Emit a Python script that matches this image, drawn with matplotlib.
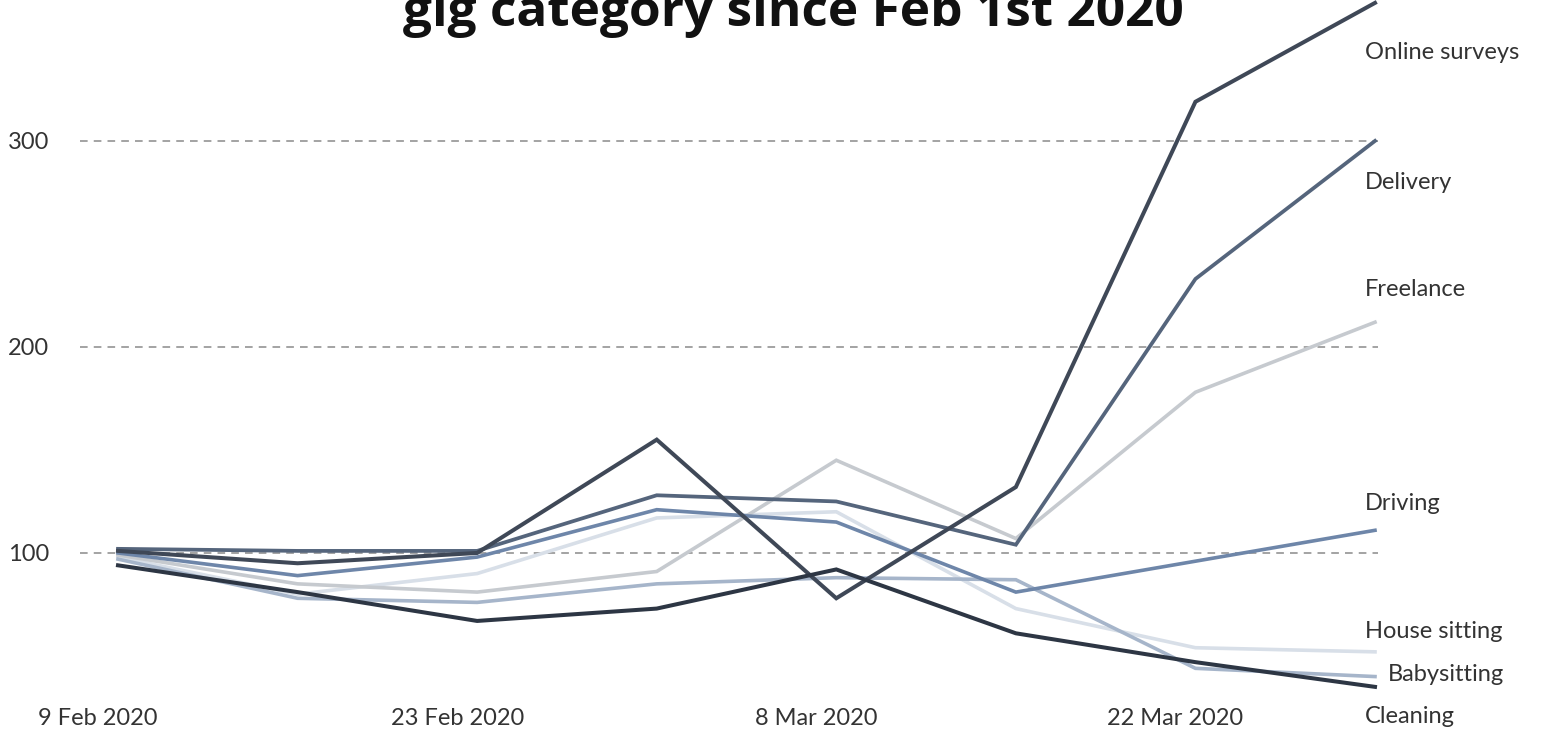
import matplotlib.pyplot as plt
import matplotlib.transforms as mtransforms
import pandas as pd

# weekly points, 9 Feb -> 29 Mar 2020
dates = pd.date_range("2020-02-09", "2020-03-29", freq="7D")

online_surveys = [101, 95, 100, 155, 78, 132, 319, 367]
delivery = [102, 101, 101, 128, 125, 104, 233, 300]
freelance = [99, 85, 81, 91, 145, 107, 178, 212]
driving = [100, 89, 98, 121, 115, 81, 96, 111]
house_sitting = [98, 80, 90, 117, 120, 73, 54, 52]
babysitting = [97, 78, 76, 85, 88, 87, 44, 40]
cleaning = [94, 81, 67, 73, 92, 61, 47, 35]

names = ["Online surveys", "Delivery", "Freelance", "Driving",
         "House sitting", "Babysitting", "Cleaning"]
series = [online_surveys, delivery, freelance, driving,
          house_sitting, babysitting, cleaning]

tick_dates = pd.to_datetime(["2020-02-09", "2020-02-23", "2020-03-08", "2020-03-22"])
tick_labels = ["9 Feb 2020", "23 Feb 2020", "8 Mar 2020", "22 Mar 2020"]
grid_vals = [100, 200, 300]

# styling
colors = {
    "Online surveys": "#3f4857",
    "Delivery": "#55657c",
    "Freelance": "#c6cacf",
    "Driving": "#6e86a9",
    "House sitting": "#d8dfe8",
    "Babysitting": "#a6b5ca",
    "Cleaning": "#2d3644",
}
widths = {"Online surveys": 2.9, "Cleaning": 2.9, "Delivery": 2.7}
# where the right-hand labels sit (value units) and their x shift in px
label_pos = {
    "Online surveys": (343, -10),
    "Delivery": (280, -10),
    "Freelance": (228, -10),
    "Driving": (124, -10),
    "House sitting": (62, -10),
    "Babysitting": (41, 13),
    "Cleaning": (20.5, -10),
}
draw_order = ["House sitting", "Freelance", "Babysitting", "Driving",
              "Delivery", "Online surveys", "Cleaning"]

plt.rcParams["font.family"] = ["Lato", "DejaVu Sans"]

W, H = 1549, 732
fig = plt.figure(figsize=(W / 100, H / 100), dpi=100)
ax = fig.add_axes([80 / W, 27 / H, (1378 - 80) / W, 1 - 27 / H])

for name in draw_order:
    vals = series[names.index(name)]
    ax.plot(dates, vals, color=colors[name], lw=widths.get(name, 2.6),
            solid_joinstyle="miter", zorder=3, clip_on=False)

for g in grid_vals:
    ax.axhline(g, color="#8a8a8a", lw=1.1, ls=(0, (5, 4)), zorder=1)

for name in names:
    y, dx = label_pos[name]
    off = mtransforms.ScaledTranslation(dx / 100, 0, fig.dpi_scale_trans)
    ax.text(dates[-1], y, name, transform=ax.transData + off,
            ha="left", va="center", fontsize=17, color="#333333")

x0 = dates[0] - pd.Timedelta(days=38 / 25.65)
x1 = dates[-1] + pd.Timedelta(days=3 / 25.65)
ax.set_xlim(x0, x1)
ax.set_ylim(26.2, 368.4)

ax.set_yticks(grid_vals)
ax.set_yticklabels([str(g) for g in grid_vals])
ax.set_xticks(tick_dates)
ax.set_xticklabels(tick_labels)
ax.tick_params(axis="both", length=0, labelsize=17, labelcolor="#333333")
ax.tick_params(axis="y", pad=22)
ax.tick_params(axis="x", pad=2)
shift = mtransforms.ScaledTranslation(-20 / 100, 0, fig.dpi_scale_trans)
for lab in ax.get_xticklabels():
    lab.set_transform(lab.get_transform() + shift)

for s in ax.spines.values():
    s.set_visible(False)
ax.patch.set_alpha(0)

fig.text(0.512, 1 - 26 / H, "gig category since Feb 1st 2020", ha="center",
         va="baseline", fontsize=37, fontweight="bold", color="#111111",
         family=["Open Sans", "DejaVu Sans"])

fig.savefig("out.png", dpi=100)
